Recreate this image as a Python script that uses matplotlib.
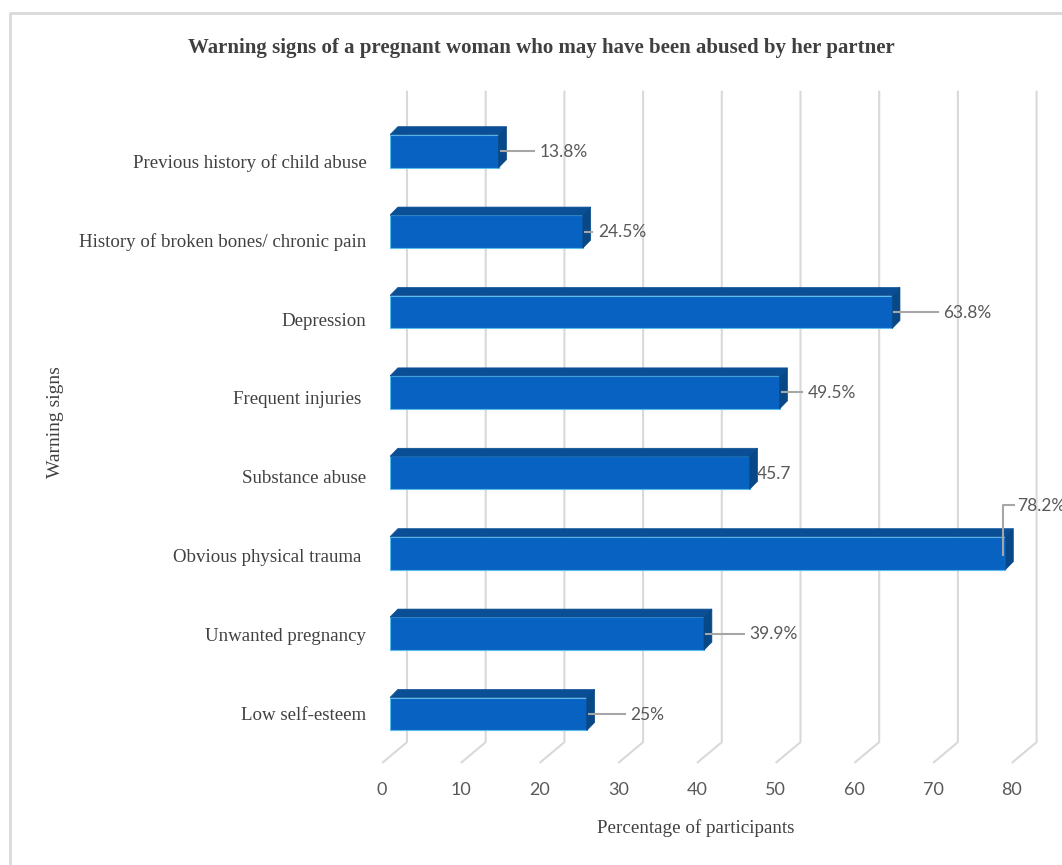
import matplotlib.pyplot as plt
from matplotlib.patches import Polygon
from matplotlib.lines import Line2D

# Data (bottom to top)
signs = ["Low self-esteem", "Unwanted pregnancy", "Obvious physical trauma ",
         "Substance abuse", "Frequent injuries ", "Depression",
         "History of broken bones/ chronic pain", "Previous history of child abuse"]
values = [25, 39.9, 78.2, 45.7, 49.5, 63.8, 24.5, 13.8]
value_labels = ["25%", "39.9%", "78.2%", "45.7", "49.5%", "63.8%", "24.5%", "13.8%"]
ticks = [0, 10, 20, 30, 40, 50, 60, 70, 80]

# label gap after bar end (x units)
label_gap = [5.5, 5.8, 1.5, 0.9, 3.6, 6.5, 1.9, 5.2]

W, H = 1062, 865
fig = plt.figure(figsize=(W / 100, H / 100), dpi=100)

# axes placed so that 0..80 maps onto the front face of the bars
x0, ppu_x = 390, 7.87
y_top_pix, y_bot_pix = 714 - 7 * 80.4 - 40.2, 714 + 40.2
ax = fig.add_axes([x0 / W, 1 - y_bot_pix / H, 80 * ppu_x / W, (y_bot_pix - y_top_pix) / H])
ax.set_xlim(0, 80)
ax.set_ylim(-0.5, 7.5)
ax.axis("off")

grid_c = "#d9d9d9"
wall_dx, floor_dx = 2.16, -0.89
for t in ticks:
    ax.add_line(Line2D([t + wall_dx, t + wall_dx, t + floor_dx], [7.74, -0.35, -0.6],
                       color=grid_c, lw=1.5, clip_on=False, zorder=1))
    ax.text(t - 1.0, -0.945, str(t), ha="center", va="center", fontsize=13,
            color="#595959", family="Lato", clip_on=False)

# 3D-ish bars
front_c, top_c, side_c = "#0762c2", "#0a4f95", "#094887"
bh, ddx, ddy = 0.41, 1.0, 0.1
for i, v in enumerate(values):
    b, t = i - bh / 2, i + bh / 2
    ax.add_patch(Polygon([(0, b), (v, b), (v, t), (0, t)], closed=True,
                         facecolor=front_c, edgecolor="#5bbbea", lw=0.8, zorder=3))
    ax.add_patch(Polygon([(0, t), (v, t), (v + ddx, t + ddy), (ddx, t + ddy)], closed=True,
                         facecolor=top_c, edgecolor=top_c, lw=0.5, zorder=3))
    ax.add_patch(Polygon([(v, b), (v, t), (v + ddx, t + ddy), (v + ddx, b + ddy)], closed=True,
                         facecolor=side_c, edgecolor=side_c, lw=0.5, zorder=3))

    if value_labels[i] == "78.2%":
        ax.add_line(Line2D([v - 0.3, v - 0.3, v + 1.1], [i - 0.02, i + 0.6, i + 0.6],
                           color="#a6a6a6", lw=1.5, clip_on=False, zorder=4))
        ax.text(v + label_gap[i], i + 0.585, value_labels[i], ha="left", va="center",
                fontsize=12.5, color="#595959", family="Lato", clip_on=False)
    else:
        if label_gap[i] > 1:
            ax.add_line(Line2D([v + 0.3, v + label_gap[i] - 0.7], [i, i],
                               color="#a6a6a6", lw=1.5, clip_on=False, zorder=4))
        ax.text(v + label_gap[i], i - 0.01, value_labels[i], ha="left", va="center",
                fontsize=12.5, color="#595959", family="Lato", clip_on=False)

    ax.text(-3.0, i - 0.02 - 0.13 * i / 7, signs[i], ha="right", va="center",
            fontsize=13.6, color="#404040", family="Liberation Serif", clip_on=False)

fig.text(541 / W, 1 - 48 / H, "Warning signs of a pregnant woman who may have been abused by her partner",
         ha="center", va="center", fontsize=15, fontweight="bold", color="#404040",
         family="Liberation Serif")
fig.text(696 / W, 1 - 828 / H, "Percentage of participants", ha="center", va="center",
         fontsize=13.7, color="#404040", family="Liberation Serif")
fig.text(55 / W, 1 - 422 / H, "Warning signs", ha="center", va="center", rotation=90,
         fontsize=14, color="#404040", family="Liberation Serif")

# chart frame
fig.add_artist(Line2D([10 / W, 10 / W, 1], [0, 1 - 13 / H, 1 - 13 / H], color=grid_c, lw=2,
                      transform=fig.transFigure))

fig.savefig("out.png", dpi=100)
